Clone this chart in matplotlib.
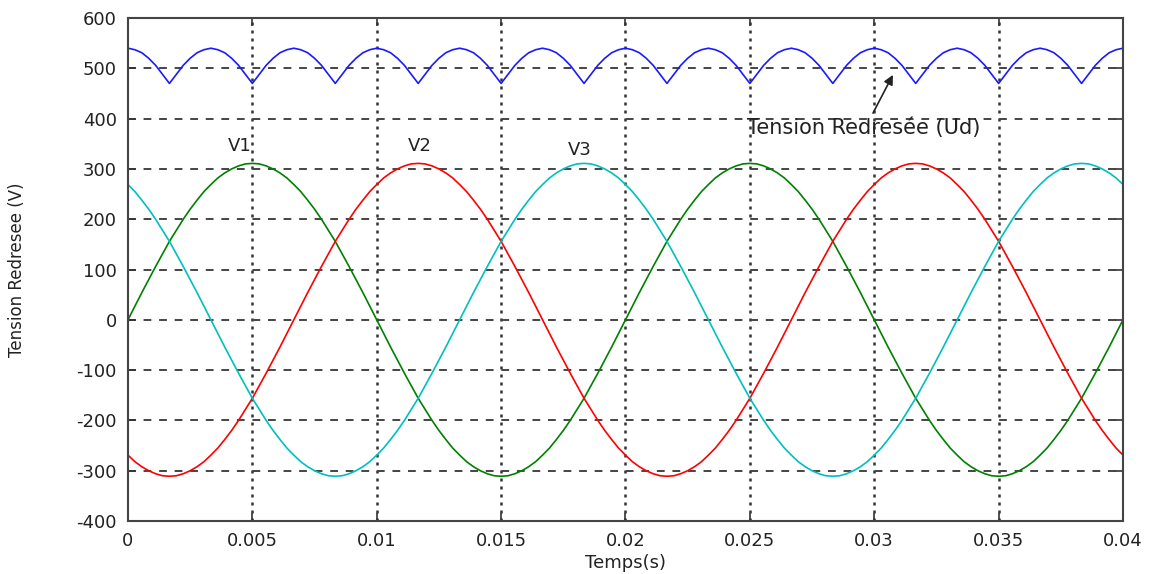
import numpy as np
import matplotlib
matplotlib.use("Agg")
import matplotlib.pyplot as plt

# sample times (s): 145 samples over 0..0.04 s
t = np.linspace(0.0, 0.04, 145)

V1 = [0, 27, 54, 80, 106, 131, 156, 178, 200, 220, 238, 255, 269, 282, 292, 300, 306, 310,
      311, 310, 306, 300, 292, 282, 269, 255, 238, 220, 200, 178, 156, 131, 106, 80, 54, 27,
      0, -27, -54, -80, -106, -131, -156, -178, -200, -220, -238, -255, -269, -282, -292, -300, -306, -310,
      -311, -310, -306, -300, -292, -282, -269, -255, -238, -220, -200, -178, -156, -131, -106, -80, -54, -27,
      0, 27, 54, 80, 106, 131, 156, 178, 200, 220, 238, 255, 269, 282, 292, 300, 306, 310,
      311, 310, 306, 300, 292, 282, 269, 255, 238, 220, 200, 178, 156, 131, 106, 80, 54, 27,
      0, -27, -54, -80, -106, -131, -156, -178, -200, -220, -238, -255, -269, -282, -292, -300, -306, -310,
      -311, -310, -306, -300, -292, -282, -269, -255, -238, -220, -200, -178, -156, -131, -106, -80, -54, -27,
      0]
V2 = [-269, -282, -292, -300, -306, -310, -311, -310, -306, -300, -292, -282,
      -269, -255, -238, -220, -200, -178, -156, -131, -106, -80, -54, -27,
      0, 27, 54, 80, 106, 131, 156, 178, 200, 220, 238, 255, 269, 282, 292, 300, 306, 310,
      311, 310, 306, 300, 292, 282, 269, 255, 238, 220, 200, 178, 156, 131, 106, 80, 54, 27,
      0, -27, -54, -80, -106, -131, -156, -178, -200, -220, -238, -255,
      -269, -282, -292, -300, -306, -310, -311, -310, -306, -300, -292, -282,
      -269, -255, -238, -220, -200, -178, -156, -131, -106, -80, -54, -27,
      0, 27, 54, 80, 106, 131, 156, 178, 200, 220, 238, 255, 269, 282, 292, 300, 306, 310,
      311, 310, 306, 300, 292, 282, 269, 255, 238, 220, 200, 178, 156, 131, 106, 80, 54, 27,
      0, -27, -54, -80, -106, -131, -156, -178, -200, -220, -238, -255,
      -269]
V3 = [269, 255, 238, 220, 200, 178, 156, 131, 106, 80, 54, 27,
      0, -27, -54, -80, -106, -131, -156, -178, -200, -220, -238, -255, -269, -282, -292, -300, -306, -310,
      -311, -310, -306, -300, -292, -282, -269, -255, -238, -220, -200, -178, -156, -131, -106, -80, -54, -27,
      0, 27, 54, 80, 106, 131, 156, 178, 200, 220, 238, 255,
      269, 282, 292, 300, 306, 310, 311, 310, 306, 300, 292, 282,
      269, 255, 238, 220, 200, 178, 156, 131, 106, 80, 54, 27,
      0, -27, -54, -80, -106, -131, -156, -178, -200, -220, -238, -255, -269, -282, -292, -300, -306, -310,
      -311, -310, -306, -300, -292, -282, -269, -255, -238, -220, -200, -178, -156, -131, -106, -80, -54, -27,
      0, 27, 54, 80, 106, 131, 156, 178, 200, 220, 238, 255,
      269, 282, 292, 300, 306, 310, 311, 310, 306, 300, 292, 282,
      269]
Ud = [540, 537, 531, 520, 506, 488, 470, 488, 506, 520, 531, 537,
      540, 537, 531, 520, 506, 488, 470, 488, 506, 520, 531, 537,
      540, 537, 531, 520, 506, 488, 470, 488, 506, 520, 531, 537,
      540, 537, 531, 520, 506, 488, 470, 488, 506, 520, 531, 537,
      540, 537, 531, 520, 506, 488, 470, 488, 506, 520, 531, 537,
      540, 537, 531, 520, 506, 488, 470, 488, 506, 520, 531, 537,
      540, 537, 531, 520, 506, 488, 470, 488, 506, 520, 531, 537,
      540, 537, 531, 520, 506, 488, 470, 488, 506, 520, 531, 537,
      540, 537, 531, 520, 506, 488, 470, 488, 506, 520, 531, 537,
      540, 537, 531, 520, 506, 488, 470, 488, 506, 520, 531, 537,
      540, 537, 531, 520, 506, 488, 470, 488, 506, 520, 531, 537,
      540, 537, 531, 520, 506, 488, 470, 488, 506, 520, 531, 537,
      540]

xticks = [0, 0.005, 0.01, 0.015, 0.02, 0.025, 0.03, 0.035, 0.04]
xticklabels = ["0", "0.005", "0.01", "0.015", "0.02", "0.025", "0.03", "0.035", "0.04"]
yticks = [-400, -300, -200, -100, 0, 100, 200, 300, 400, 500, 600]

phase_labels = ["V1", "V2", "V3"]
phase_label_x = [0.0045, 0.01174, 0.01817]
phase_label_y = [345, 345, 337]

ud_label = "Tension Redresée (Ud)"
ud_label_xy = (0.0249, 381)
ud_arrow_tail = (0.02995, 411)
ud_arrow_head = (0.03075, 487)

plt.rcParams['font.family'] = ['DejaVu Sans']
plt.rcParams['axes.unicode_minus'] = False

fig = plt.figure(figsize=(11.55, 5.74), dpi=100)
ax = fig.add_axes([0.1108, 0.0923, 0.8615, 0.8763])

lw = 1.2
ax.plot(t, Ud, color=(0.1, 0.1, 1), lw=lw)
ax.plot(t, V1, color=(0, 0.5, 0), lw=lw)
ax.plot(t, V2, color=(1, 0, 0), lw=lw)
ax.plot(t, V3, color=(0, 0.75, 0.75), lw=lw)

ax.set_xlim(0, 0.04)
ax.set_ylim(-400, 600)
ax.set_xticks(xticks)
ax.set_xticklabels(xticklabels)
ax.set_yticks(yticks)

for x in xticks[1:-1]:
    ax.axvline(x, color='#333333', lw=1.8, linestyle=(0, (1.2, 2.0)), zorder=0.5)
for y in yticks[1:-1]:
    ax.axhline(y, color='#444444', lw=1.4, linestyle=(0, (4, 4)), zorder=0.5)

ax.tick_params(direction='in', length=6, width=1.2, colors='#333333',
               labelsize=13, labelcolor='#222222', pad=8, top=True, right=True)
for s in ax.spines.values():
    s.set_color('#444444')
    s.set_linewidth(1.5)

ax.set_xlabel("Temps(s)", fontsize=13, color='#222222', va='center')
ax.xaxis.set_label_coords(0.5, -0.0835)
ax.set_ylabel("Tension Redresee (V)", fontsize=12, color='#222222', va='center')
ax.yaxis.set_label_coords(-0.1116, 0.5)

for lab, x, y in zip(phase_labels, phase_label_x, phase_label_y):
    ax.text(x, y, lab, fontsize=13, color='#222222', ha='center', va='center')

ax.text(ud_label_xy[0], ud_label_xy[1], ud_label, fontsize=15, color='#222222',
        ha='left', va='center')
ax.annotate("", xy=ud_arrow_head, xytext=ud_arrow_tail,
            arrowprops=dict(arrowstyle='-|>', color='#222222', lw=1.2,
                            shrinkA=0, shrinkB=0, mutation_scale=14))

fig.savefig("out.png", dpi=100, facecolor='white')
